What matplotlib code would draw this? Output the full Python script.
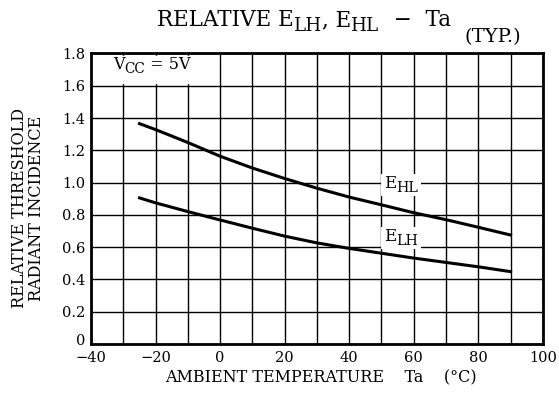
import matplotlib
matplotlib.use("Agg")
import matplotlib.pyplot as plt
import matplotlib.transforms as mtransforms
import numpy as np

plt.rcParams['font.family'] = ['DejaVu Serif']

# data
ta = [-25, -20, -10, 0, 10, 20, 30, 40, 50, 60, 70, 80, 90]
e_hl = [1.365, 1.328, 1.248, 1.163, 1.09, 1.025, 0.965, 0.91, 0.862, 0.813, 0.77, 0.723, 0.675]
e_lh = [0.905, 0.874, 0.82, 0.768, 0.717, 0.668, 0.626, 0.592, 0.562, 0.532, 0.505, 0.478, 0.448]

x_ticks = [-40, -20, 0, 20, 40, 60, 80, 100]
x_labels = ['\u221240', '\u221220', '0', '20', '40', '60', '80', '100']
y_ticks = [0, 0.2, 0.4, 0.6, 0.8, 1.0, 1.2, 1.4, 1.6, 1.8]
y_labels = ['0', '0.2', '0.4', '0.6', '0.8', '1.0', '1.2', '1.4', '1.6', '1.8']

fig = plt.figure(figsize=(5.59, 4.08), dpi=100)
ax = fig.add_axes([0.163, 0.157, 0.808, 0.712])
renderer = fig.canvas.get_renderer()
pix = mtransforms.IdentityTransform()


def rich_text(px, py, parts, size, ha='center', sub_scale=0.82, bg=False):
    """Draw text with subscripts piece by piece, baseline at (px, py) in pixels."""
    objs = []
    total = 0
    for s, is_sub in parts:
        fs = size * sub_scale if is_sub else size
        t = fig.text(0, 0, s, fontsize=fs, transform=pix, va='baseline', ha='left', zorder=5)
        w = t.get_window_extent(renderer).width
        objs.append((t, is_sub, w))
        total += w
    x0 = px - total / 2 if ha == 'center' else px
    for t, is_sub, w in objs:
        dy = -size * 0.32 if is_sub else 0
        t.set_position((x0, py + dy))
        x0 += w
    if bg:
        h = size * 1.389
        fig.patches.append(plt.Rectangle((px - total / 2 - 3, py - h * 0.5), total + 6, h * 1.35,
                                         transform=pix, facecolor='white', edgecolor='none',
                                         zorder=4))


ax.set_xlim(-40, 100)
ax.set_ylim(0, 1.8)
ax.set_xticks(x_ticks)
ax.set_xticklabels(x_labels, fontsize=10.5)
ax.set_yticks(y_ticks)
ax.set_yticklabels(y_labels, fontsize=10.5)
ax.set_xticks(np.arange(-40, 101, 10), minor=True)
ax.tick_params(which='both', length=0, pad=4)
ax.tick_params(axis='x', pad=5)
ax.set_axisbelow(True)
ax.grid(True, which='both', color='black', linewidth=1.0)
for s in ax.spines.values():
    s.set_linewidth(2.0)

# lift the "0" on the y axis a little, as in the reference
lab0 = ax.get_yticklabels()[0]
lab0.set_transform(lab0.get_transform() + mtransforms.ScaledTranslation(0, 3 / 72, fig.dpi_scale_trans))

# white cell behind the Vcc label
ax.fill_between([-39.6, -0.6], 1.615, 1.785, color='white', zorder=1)

ax.plot(ta, e_hl, color='black', linewidth=2.2, zorder=3)
ax.plot(ta, e_lh, color='black', linewidth=2.2, zorder=3)

H = 408
# Vcc label
rich_text(113, H - 69, [('V', 0), ('CC', 1), (' = 5V', 0)], 11.5, ha='left', sub_scale=0.85)
# curve labels
px, _ = ax.transData.transform((56, 0))
rich_text(px, H - 188, [('E', 0), ('HL', 1)], 12, sub_scale=0.85, bg=True)
rich_text(px, H - 241, [('E', 0), ('LH', 1)], 12, sub_scale=0.85, bg=True)

# title
rich_text(304, H - 26, [('RELATIVE E', 0), ('LH', 1), (', E', 0), ('HL', 1), ('  \u2212  Ta', 0)],
          15.5, sub_scale=0.85)
fig.text(493, H - 42, '(TYP.)', fontsize=14, ha='center', va='baseline', transform=pix)

fig.text(0.05, 1 - 208 / H, 'RELATIVE THRESHOLD\nRADIANT INCIDENCE', fontsize=11.5,
         rotation=90, ha='center', va='center', linespacing=0.95)
fig.text(321 / 559, 1 - 378 / H, 'AMBIENT TEMPERATURE    Ta    (\u00b0C)', fontsize=11.5,
         ha='center', va='center')

fig.savefig('out.png', dpi=100)
